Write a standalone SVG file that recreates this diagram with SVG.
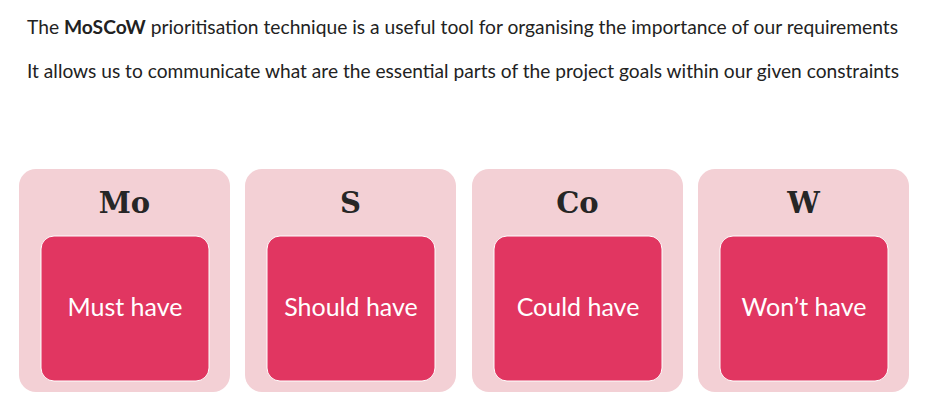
<svg xmlns="http://www.w3.org/2000/svg" width="925" height="413" viewBox="0 0 925 413">
<style>
.outer{fill:#F3D0D5}
.inner{fill:#E13661;stroke:#ffffff;stroke-width:1}
.intro{font-family:Lato,"Open Sans",sans-serif;font-size:19px;fill:#222222;text-anchor:middle}
.head{font-family:"DejaVu Serif",serif;font-weight:bold;font-size:29px;fill:#262626;text-anchor:middle}
.lbl{font-family:Lato,"Open Sans",sans-serif;font-size:25px;fill:#ffffff;text-anchor:middle}
</style>
<rect width="925" height="413" fill="#ffffff"/>
<text class="intro" x="462.5" y="34" textLength="871" lengthAdjust="spacingAndGlyphs">The <tspan font-weight="bold">MoSCoW</tspan> prioritisation technique is a useful tool for organising the importance of our requirements</text>
<text class="intro" x="463" y="78" textLength="872" lengthAdjust="spacingAndGlyphs">It allows us to communicate what are the essential parts of the project goals within our given constraints</text>
<g id="mo">
<rect class="outer" x="19" y="169" width="211" height="223" rx="17"/>
<text class="head" x="124.5" y="213">Mo</text>
<rect class="inner" x="41" y="236" width="168" height="145" rx="13"/>
<text class="lbl" x="125" y="316">Must have</text>
</g>
<g id="s">
<rect class="outer" x="245" y="169" width="211" height="223" rx="17"/>
<text class="head" x="350.5" y="213">S</text>
<rect class="inner" x="267" y="236" width="168" height="145" rx="13"/>
<text class="lbl" x="351" y="316">Should have</text>
</g>
<g id="co">
<rect class="outer" x="472" y="169" width="211" height="223" rx="17"/>
<text class="head" x="577.5" y="213">Co</text>
<rect class="inner" x="494" y="236" width="168" height="145" rx="13"/>
<text class="lbl" x="578" y="316">Could have</text>
</g>
<g id="w">
<rect class="outer" x="698" y="169" width="211" height="223" rx="17"/>
<text class="head" x="803.5" y="213">W</text>
<rect class="inner" x="720" y="236" width="168" height="145" rx="13"/>
<text class="lbl" x="804" y="316">Won’t have</text>
</g>
<g id="connectors"></g>
</svg>
